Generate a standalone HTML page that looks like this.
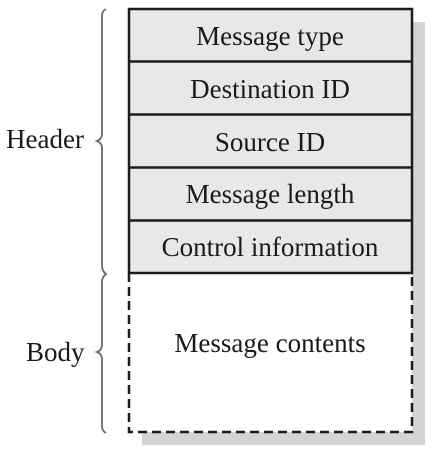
<!DOCTYPE html>
<html><head><style>
html,body{margin:0;padding:0;background:#fff;}
svg{display:block;}
text{font-family:"Liberation Serif",serif;font-size:27px;fill:#1a1a1a;}
</style></head><body>
<svg width="436" height="450" viewBox="0 0 436 450" xmlns="http://www.w3.org/2000/svg">
<rect x="142" y="22" width="283" height="423" fill="#d3d4d6"/>
<rect x="129" y="9" width="283" height="264" fill="#e8e8e8"/>
<rect x="129" y="273" width="283" height="159" fill="#fff"/>
<g stroke="#1c1c1c" stroke-width="2.5" fill="none">
<rect x="129" y="9" width="283" height="264"/>
<line x1="129" y1="61.5" x2="412" y2="61.5"/>
<line x1="129" y1="114.5" x2="412" y2="114.5"/>
<line x1="129" y1="167.5" x2="412" y2="167.5"/>
<line x1="129" y1="220.5" x2="412" y2="220.5"/>
<path d="M129 273 V432 H412 V273" stroke-dasharray="9,5"/>
</g>
<g stroke="#6a6a6a" stroke-width="1.8" fill="none">
<path d="M106 9 Q102 11 102 16 V134 Q102 139 97 141 Q102 143 102 148 V266 Q102 271 106 274 Q102 277 102 282 V345 Q102 350 97 352 Q102 354 102 359 V426 Q102 431 106 433"/>
</g>
<g text-anchor="middle">
<text x="270" y="45">Message type</text>
<text x="270" y="98">Destination ID</text>
<text x="270" y="151">Source ID</text>
<text x="270" y="203">Message length</text>
<text x="270" y="256">Control information</text>
<text x="270" y="352">Message contents</text>
</g>
<text x="6" y="148">Header</text>
<text x="26" y="361">Body</text>
</svg>
</body></html>
